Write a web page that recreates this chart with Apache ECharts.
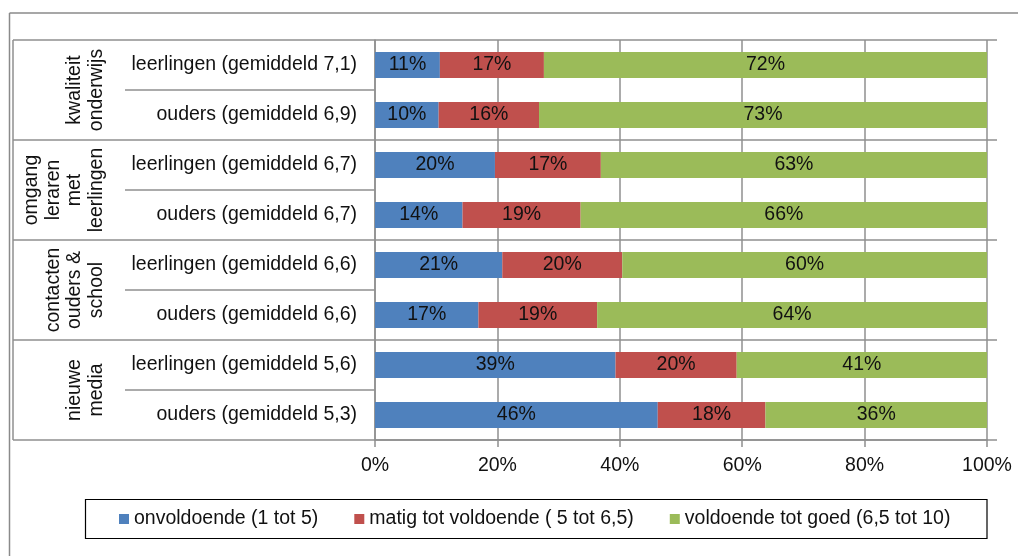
<!DOCTYPE html>
<html><head><meta charset="utf-8">
<script src="https://cdn.jsdelivr.net/npm/echarts@6/dist/echarts.min.js"></script>
<style>html,body{margin:0;padding:0;background:#fff}#c{width:1018px;height:556px}</style>
</head><body><div id="c"></div>
<script>
const categories = [
  'leerlingen (gemiddeld 7,1)', 'ouders (gemiddeld 6,9)',
  'leerlingen (gemiddeld 6,7)', 'ouders (gemiddeld 6,7)',
  'leerlingen (gemiddeld 6,6)', 'ouders (gemiddeld 6,6)',
  'leerlingen (gemiddeld 5,6)', 'ouders (gemiddeld 5,3)'
];
const groups = ['kwaliteit\nonderwijs', 'omgang\nleraren\nmet\nleerlingen', 'contacten\nouders &\nschool', 'nieuwe\nmedia'];
const groupSize = 2;
const seriesNames = ['onvoldoende (1 tot 5)', 'matig tot voldoende ( 5 tot 6,5)', 'voldoende tot goed (6,5 tot 10)'];
const onvoldoende = [10.6, 10.4, 19.6, 14.3, 20.8, 16.9, 39.3, 46.2];
const matig       = [17.0, 16.4, 17.3, 19.3, 19.6, 19.4, 19.8, 17.6];
const goed        = [72.4, 73.2, 63.1, 66.4, 59.6, 63.7, 40.9, 36.2];
const seriesColors = ['#4F81BD', '#C0504D', '#9BBB59'];
const xMin = 0, xMax = 100, xStep = 20;

const FONT = '"Liberation Sans", Arial, sans-serif';
const FS = 19.5;
const GRAY = '#8f8f8f';

const chart = echarts.init(document.getElementById('c'), null, {renderer: 'canvas'});
const values = [onvoldoende, matig, goed];
chart.setOption({
  animation: false,
  textStyle: {fontFamily: FONT},
  grid: {left: 375, right: 31, top: 40, bottom: 116, containLabel: false},
  xAxis: {
    type: 'value', min: xMin, max: xMax, interval: xStep,
    axisLine: {show: true, lineStyle: {color: GRAY, width: 1.5}},
    axisTick: {show: true, length: 7, lineStyle: {color: GRAY, width: 1.5}},
    splitLine: {show: true, lineStyle: {color: GRAY, width: 1.5}},
    axisLabel: {formatter: '{value}%', fontSize: FS, color: '#111', margin: 16, fontFamily: FONT}
  },
  yAxis: {
    type: 'category', data: categories, inverse: true,
    axisLine: {show: true, lineStyle: {color: GRAY, width: 1.5}},
    axisTick: {show: false},
    axisLabel: {fontSize: FS, color: '#111', margin: 18, fontFamily: FONT}
  },
  legend: {
    data: seriesNames, left: 119, top: 509, padding: 0,
    icon: 'rect', itemWidth: 10, itemHeight: 10, itemGap: 36,
    textStyle: {fontSize: FS, color: '#111', fontFamily: FONT}
  },
  series: seriesNames.map((n, i) => ({
    name: n, type: 'bar', stack: 'total', barWidth: 26,
    itemStyle: {color: seriesColors[i]},
    label: {show: true, position: 'inside', color: '#111', fontSize: FS, fontFamily: FONT,
      formatter: p => Math.round(p.value) + '%'},
    data: values[i]
  }))
});

// decorations derived from the axes
const c0 = chart.convertToPixel({yAxisIndex: 0}, 0);
const c1 = chart.convertToPixel({yAxisIndex: 0}, 1);
const band = c1 - c0;
const yTop = c0 - band / 2;
const x0 = chart.convertToPixel({xAxisIndex: 0}, xMin);
const x1 = chart.convertToPixel({xAxisIndex: 0}, xMax);
const yBottom = yTop + band * categories.length;
const els = [];
const ls = {stroke: GRAY, lineWidth: 1.5};
// outer frame (left + top)
els.push({type: 'line', shape: {x1: 9.5, y1: 13, x2: 9.5, y2: 556}, style: {stroke: '#8a8a8a', lineWidth: 1.5}});
els.push({type: 'line', shape: {x1: 9.5, y1: 13, x2: 1018, y2: 13}, style: {stroke: '#8a8a8a', lineWidth: 1.5}});
// legend frame
els.push({type: 'rect', shape: {x: 85.5, y: 499.5, width: x1 - 85.5, height: 39}, style: {fill: null, stroke: '#000', lineWidth: 1.2}});
// left vertical of group column
els.push({type: 'line', shape: {x1: 13, y1: yTop, x2: 13, y2: yBottom}, style: ls});
for (let g = 0; g <= groups.length; g++) {
  const y = yTop + g * groupSize * band;
  els.push({type: 'line', shape: {x1: 13, y1: y, x2: x1 + 10, y2: y}, style: ls});
}
for (let g = 0; g < groups.length; g++) {
  for (let k = 1; k < groupSize; k++) {
    const y = yTop + (g * groupSize + k) * band;
    els.push({type: 'line', shape: {x1: 125, y1: y, x2: x0, y2: y}, style: ls});
  }
  const yc = yTop + (g + 0.5) * groupSize * band;
  els.push({type: 'text', x: 107, y: yc, rotation: Math.PI / 2,
    style: {text: groups[g], fontSize: FS, fontFamily: FONT, fill: '#111', align: 'center',
      verticalAlign: 'bottom', lineHeight: 21.5}});
}
chart.setOption({graphic: {elements: els}});
</script></body></html>
